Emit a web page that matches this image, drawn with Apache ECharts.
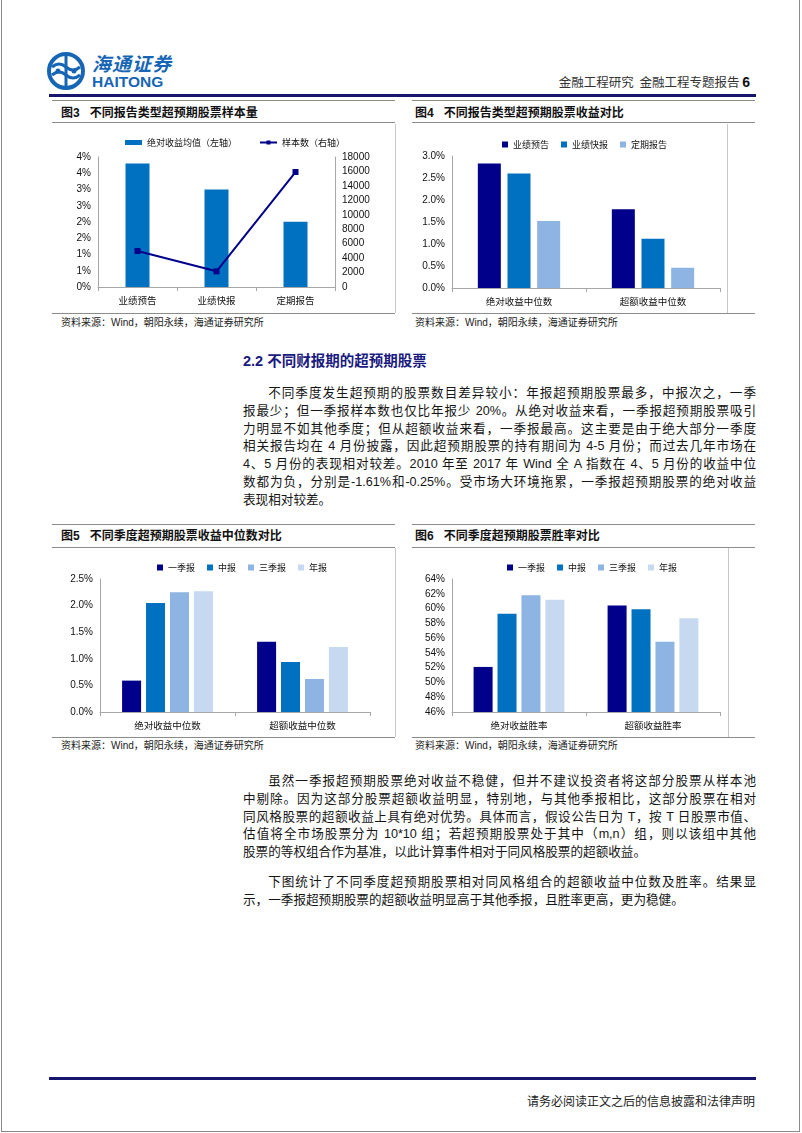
<!DOCTYPE html>
<html><head><meta charset="utf-8">
<script src="https://cdn.jsdelivr.net/npm/echarts@6/dist/echarts.min.js"></script>
<style>
html,body{margin:0;padding:0;background:#fff;}
#page{position:relative;width:802px;height:1133px;overflow:hidden;background:#fff;font-family:"Liberation Sans","Noto Sans CJK SC",sans-serif;color:#111;}
.a{position:absolute;}
.navy{background:#16166e;height:3px;}
.hl{background:#8c8c8c;height:1px;}
.vl{background:#c8c8c8;width:1px;}
.ttl{font-size:12px;font-weight:bold;line-height:16px;white-space:nowrap;color:#111;}
.ttl span{margin-right:10px;}
.src{font-size:10px;line-height:14px;white-space:nowrap;color:#222;}
.p{left:243px;width:513px;font-size:12.6px;line-height:17.8px;color:#151515;}
.p div{text-align:justify;text-align-last:justify;height:17.8px;}
.p div.last{text-align-last:left;}
.p div.ind{text-indent:2em;}
.chart{position:absolute;}
</style></head>
<body>
<div id="page">
  <div class="a" style="left:1px;top:-2px;width:799px;height:1134px;border:1px solid #8a8a8a;box-sizing:border-box;"></div>

  <!-- header -->
  <svg class="a" style="left:46px;top:51px" width="40" height="40" viewBox="0 0 40 40">
    <circle cx="20" cy="20" r="17" fill="none" stroke="#1766b5" stroke-width="4"/>
    <path d="M20 4 V36" stroke="#1766b5" stroke-width="3" fill="none"/>
    <path d="M6 16 Q13 10 20 16 Q27 22 34 16" stroke="#1766b5" stroke-width="3" fill="none"/>
    <path d="M6 24 Q13 18 20 24 Q27 30 34 24" stroke="#1766b5" stroke-width="3" fill="none"/>
    <circle cx="12" cy="20" r="2.5" fill="#1766b5"/>
    <circle cx="28" cy="20" r="2.5" fill="#1766b5"/>
  </svg>
  <div class="a" style="left:92px;top:52px;font-family:'Noto Sans CJK SC';font-weight:bold;font-style:italic;font-size:19px;line-height:22px;color:#1766b5;letter-spacing:1px;">海通证券</div>
  <div class="a" style="left:92px;top:74px;font-family:'Liberation Sans';font-weight:bold;font-size:15.5px;line-height:16px;color:#1766b5;">HAITONG</div>
  <div class="a" style="right:52px;top:74px;font-family:'Noto Sans CJK SC';font-size:12.5px;line-height:16px;color:#333;white-space:nowrap;">金融工程研究&nbsp;&nbsp;金融工程专题报告 <b style="font-family:'Liberation Sans';font-size:14px;color:#111;">6</b></div>
  <div class="a navy" style="left:49px;top:94px;width:707px;"></div>

  <!-- figure 3 frame -->
  <div class="a hl" style="left:52px;top:100px;width:343px;"></div>
  <div class="a ttl" style="left:61px;top:105px;"><span>图3</span>不同报告类型超预期股票样本量</div>
  <div class="a hl" style="left:52px;top:122px;width:343px;"></div>
  <div class="a vl" style="left:395px;top:124px;height:189px;"></div>
  <div class="a hl" style="left:52px;top:313px;width:343px;"></div>
  <div class="a src" style="left:61px;top:316px;">资料来源：Wind，朝阳永续，海通证券研究所</div>
  <div id="c3" class="chart" style="left:52px;top:123px;width:343px;height:190px;"></div>

  <!-- figure 4 frame -->
  <div class="a hl" style="left:412px;top:100px;width:343px;"></div>
  <div class="a ttl" style="left:415px;top:105px;"><span>图4</span>不同报告类型超预期股票收益对比</div>
  <div class="a hl" style="left:412px;top:122px;width:343px;"></div>
  <div class="a vl" style="left:727px;top:124px;height:189px;"></div>
  <div class="a hl" style="left:412px;top:313px;width:343px;"></div>
  <div class="a src" style="left:415px;top:316px;">资料来源：Wind，朝阳永续，海通证券研究所</div>
  <div id="c4" class="chart" style="left:405px;top:123px;width:322px;height:190px;"></div>

  <!-- section text -->
  <div class="a" style="left:243px;top:351px;font-size:14.5px;line-height:20px;font-weight:bold;color:#1a1a80;white-space:nowrap;">2.2 不同财报期的超预期股票</div>
  <div class="a p" style="top:385px;">
    <div class="ind">不同季度发生超预期的股票数目差异较小：年报超预期股票最多，中报次之，一季</div>
    <div>报最少；但一季报样本数也仅比年报少 20%。从绝对收益来看，一季报超预期股票吸引</div>
    <div>力明显不如其他季度；但从超额收益来看，一季报最高。这主要是由于绝大部分一季度</div>
    <div>相关报告均在 4 月份披露，因此超预期股票的持有期间为 4-5 月份；而过去几年市场在</div>
    <div>4、5 月份的表现相对较差。2010 年至 2017 年 Wind 全 A 指数在 4、5 月份的收益中位</div>
    <div>数都为负，分别是-1.61%和-0.25%。受市场大环境拖累，一季报超预期股票的绝对收益</div>
    <div class="last">表现相对较差。</div>
  </div>

  <!-- figure 5 frame -->
  <div class="a hl" style="left:52px;top:524px;width:343px;"></div>
  <div class="a ttl" style="left:61px;top:528px;"><span>图5</span>不同季度超预期股票收益中位数对比</div>
  <div class="a hl" style="left:52px;top:547px;width:343px;"></div>
  <div class="a vl" style="left:395px;top:548px;height:189px;"></div>
  <div class="a hl" style="left:52px;top:737px;width:343px;"></div>
  <div class="a src" style="left:61px;top:739px;">资料来源：Wind，朝阳永续，海通证券研究所</div>
  <div id="c5" class="chart" style="left:52px;top:547px;width:343px;height:190px;"></div>

  <!-- figure 6 frame -->
  <div class="a hl" style="left:412px;top:524px;width:343px;"></div>
  <div class="a ttl" style="left:415px;top:528px;"><span>图6</span>不同季度超预期股票胜率对比</div>
  <div class="a hl" style="left:412px;top:547px;width:343px;"></div>
  <div class="a vl" style="left:728px;top:548px;height:189px;"></div>
  <div class="a hl" style="left:412px;top:737px;width:343px;"></div>
  <div class="a src" style="left:415px;top:739px;">资料来源：Wind，朝阳永续，海通证券研究所</div>
  <div id="c6" class="chart" style="left:405px;top:547px;width:323px;height:190px;"></div>

  <div class="a p" style="top:773px;">
    <div class="ind">虽然一季报超预期股票绝对收益不稳健，但并不建议投资者将这部分股票从样本池</div>
    <div>中剔除。因为这部分股票超额收益明显，特别地，与其他季报相比，这部分股票在相对</div>
    <div>同风格股票的超额收益上具有绝对优势。具体而言，假设公告日为 T，按 T 日股票市值、</div>
    <div>估值将全市场股票分为 10*10 组；若超预期股票处于其中（m,n）组，则以该组中其他</div>
    <div class="last">股票的等权组合作为基准，以此计算事件相对于同风格股票的超额收益。</div>
  </div>
  <div class="a p" style="top:874px;">
    <div class="ind">下图统计了不同季度超预期股票相对同风格组合的超额收益中位数及胜率。结果显</div>
    <div class="last">示，一季报超预期股票的超额收益明显高于其他季报，且胜率更高，更为稳健。</div>
  </div>

  <!-- footer -->
  <div class="a navy" style="left:49px;top:1077px;width:707px;"></div>
  <div class="a" style="right:47px;top:1093px;font-family:'Noto Sans CJK SC';font-size:12px;line-height:16px;color:#222;white-space:nowrap;">请务必阅读正文之后的信息披露和法律声明</div>
</div>

<script>
// ---------- data ----------
const cats3 = ['业绩预告', '业绩快报', '定期报告'];
const absMean3 = [3.80, 3.00, 2.01];        // 绝对收益均值（%）
const samples3 = [4980, 2170, 15920];       // 样本数

const cats4 = ['绝对收益中位数', '超额收益中位数'];
const forecast4 = [2.83, 1.79];             // 业绩预告
const express4 = [2.60, 1.12];              // 业绩快报
const periodic4 = [1.52, 0.46];             // 定期报告

const cats5 = ['绝对收益中位数', '超额收益中位数'];
const q1Med = [0.59, 1.32];
const h1Med = [2.05, 0.94];
const q3Med = [2.25, 0.62];
const annMed = [2.27, 1.22];

const cats6 = ['绝对收益胜率', '超额收益胜率'];
const q1Win = [52.1, 60.4];
const h1Win = [59.3, 59.9];
const q3Win = [61.8, 55.5];
const annWin = [61.2, 58.7];

const seasonNames = ['一季报', '中报', '三季报', '年报'];
const typeNames = ['业绩预告', '业绩快报', '定期报告'];

// ---------- styles ----------
const NAVY = '#00008b', BLUE = '#0070c0', LBLUE = '#8db4e2', PALE = '#c6d9f1';
const NUM = { fontFamily: 'Liberation Sans', fontSize: 10, color: '#111' };
const CJK = { fontFamily: 'Noto Sans CJK SC', fontSize: 9.5, color: '#111' };
const AXC = '#a6a6a6';

function valAxis(min, max, interval, fmt, extra) {
  return Object.assign({
    type: 'value', min, max, interval,
    axisLine: { show: true, lineStyle: { color: AXC } },
    axisTick: { show: false },
    splitLine: { show: false },
    axisLabel: Object.assign({ formatter: fmt, margin: 7 }, NUM)
  }, extra || {});
}
function catAxis(data) {
  return {
    type: 'category', data,
    axisLine: { show: true, lineStyle: { color: AXC } },
    axisTick: { show: true, length: 4, lineStyle: { color: AXC } },
    axisLabel: Object.assign({ margin: 9 }, CJK)
  };
}
function legend(names, left, top) {
  return {
    data: names, left, top, itemWidth: 6, itemHeight: 6, itemGap: 12, icon: 'rect',
    textStyle: Object.assign({}, CJK, { fontSize: 9 })
  };
}
function bar(name, data, color, w, gap) {
  return { name, type: 'bar', data, barWidth: w, barGap: gap, itemStyle: { color }, animation: false };
}

// ---------- figure 3 ----------
const c3 = echarts.init(document.getElementById('c3'), null, { renderer: 'canvas' });
c3.setOption({
  animation: false,
  grid: { left: 46, right: 60, top: 34, bottom: 26 },
  legend: {
    data: [{ name: '绝对收益均值（左轴）', icon: 'rect' }, { name: '样本数（右轴）' }],
    left: 68, top: 10, itemWidth: 17, itemHeight: 5, itemGap: 22,
    textStyle: Object.assign({}, CJK, { fontSize: 9 })
  },
  xAxis: catAxis(cats3),
  yAxis: [
    valAxis(0, 4, 0.5, v => Math.round(v) + '%'),
    valAxis(0, 18000, 2000, v => String(v), { position: 'right' })
  ],
  series: [
    { name: '绝对收益均值（左轴）', type: 'bar', data: absMean3, barWidth: 24, itemStyle: { color: BLUE } },
    { name: '样本数（右轴）', type: 'line', yAxisIndex: 1, data: samples3, symbol: 'rect', symbolSize: 6,
      lineStyle: { color: NAVY, width: 2 }, itemStyle: { color: NAVY } }
  ]
});

// ---------- figure 4 ----------
const c4 = echarts.init(document.getElementById('c4'));
c4.setOption({
  animation: false,
  grid: { left: 47, right: 7, top: 33, bottom: 25 },
  legend: legend(typeNames, 92, 12),
  xAxis: catAxis(cats4),
  yAxis: valAxis(0, 3, 0.5, v => v.toFixed(1) + '%'),
  series: [
    bar(typeNames[0], forecast4, NAVY, 23, '29%'),
    bar(typeNames[1], express4, BLUE, 23, '29%'),
    bar(typeNames[2], periodic4, LBLUE, 23, '29%')
  ]
});

// ---------- figure 5 ----------
const c5 = echarts.init(document.getElementById('c5'));
c5.setOption({
  animation: false,
  grid: { left: 48, right: 25, top: 32, bottom: 25 },
  legend: legend(seasonNames, 100, 11),
  xAxis: catAxis(cats5),
  yAxis: valAxis(0, 2.5, 0.5, v => v.toFixed(1) + '%'),
  series: [
    bar(seasonNames[0], q1Med, NAVY, 19, '26%'),
    bar(seasonNames[1], h1Med, BLUE, 19, '26%'),
    bar(seasonNames[2], q3Med, LBLUE, 19, '26%'),
    bar(seasonNames[3], annMed, PALE, 19, '26%')
  ]
});

// ---------- figure 6 ----------
const c6 = echarts.init(document.getElementById('c6'));
c6.setOption({
  animation: false,
  grid: { left: 47, right: 8, top: 32, bottom: 25 },
  legend: legend(seasonNames, 97, 11),
  xAxis: catAxis(cats6),
  yAxis: valAxis(46, 64, 2, v => v + '%'),
  series: [
    bar(seasonNames[0], q1Win, NAVY, 19, '26%'),
    bar(seasonNames[1], h1Win, BLUE, 19, '26%'),
    bar(seasonNames[2], q3Win, LBLUE, 19, '26%'),
    bar(seasonNames[3], annWin, PALE, 19, '26%')
  ]
});
</script>
</body></html>
